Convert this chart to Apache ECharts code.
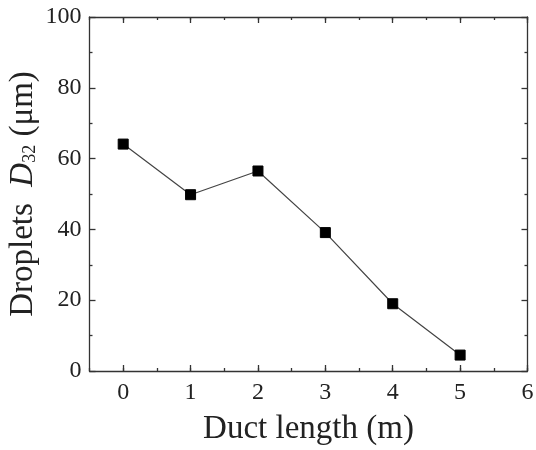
<!DOCTYPE html>
<html><head><meta charset="utf-8">
<script src="https://cdn.jsdelivr.net/npm/echarts@6/dist/echarts.min.js"></script>
<style>html,body{margin:0;padding:0;background:#fff}#c{width:536px;height:450px}</style>
</head><body><div id="c"></div>
<script>
const ductLength = [0, 1, 2, 3, 4, 5];
const dropletD32 = [64.1, 49.8, 56.5, 39.1, 19.0, 4.5];
const xMajorTicks = [0, 1, 2, 3, 4, 5, 6];
const xLabel = 'Duct length (m)';

const font = 'Liberation Serif';
const lineCol = '#333';
const chart = echarts.init(document.getElementById('c'), null, {renderer: 'canvas'});

function xAx(pos, major, labels) {
  return {
    type: 'value', position: pos, min: -0.5, max: 6, interval: 0.5,
    axisLine: {show: !major, onZero: false, lineStyle: {color: lineCol, width: 1.3}},
    axisTick: major ? {show: true, inside: true, length: 6, customValues: xMajorTicks, lineStyle: {color: lineCol, width: 1.3}}
                    : {show: true, inside: true, length: 3, lineStyle: {color: lineCol, width: 1.3}},
    axisLabel: {show: labels, margin: 10, fontFamily: font, fontSize: 24, color: '#222',
      formatter: v => (Math.abs(v - Math.round(v)) < 1e-9 && v >= 0) ? String(Math.round(v)) : ''},
    splitLine: {show: false},
    name: labels ? xLabel : '', nameLocation: 'middle', nameGap: 42,
    nameTextStyle: {fontFamily: font, fontSize: 33, color: '#222'}
  };
}
function yAx(pos, labels) {
  return {
    type: 'value', position: pos, min: 0, max: 100, interval: 20,
    axisLine: {show: true, onZero: false, lineStyle: {color: lineCol, width: 1.3}},
    axisTick: {show: true, inside: true, length: 6, lineStyle: {color: lineCol, width: 1.3}},
    minorTick: {show: true, splitNumber: 2, length: 3, lineStyle: {color: lineCol, width: 1.3}},
    axisLabel: {show: labels, margin: 8, fontFamily: font, fontSize: 24, color: '#222'},
    splitLine: {show: false}, minorSplitLine: {show: false},
    name: labels ? '{n|Droplets  }{i|D}{s|32}{n| (μm)}' : '', nameLocation: 'middle', nameGap: 50,
    nameMoveOverlap: false,
    nameTextStyle: {fontFamily: font, fontSize: 33, color: '#222',
      rich: {
        n: {fontFamily: font, fontSize: 33, color: '#222'},
        i: {fontFamily: font, fontSize: 33, fontStyle: 'italic', color: '#222'},
        s: {fontFamily: font, fontSize: 18, color: '#222', verticalAlign: 'bottom', padding: [14, 0, 0, 0]}
      }}
  };
}

chart.setOption({
  animation: false,
  backgroundColor: '#fff',
  grid: {left: 89.5, top: 17, width: 438, height: 354, containLabel: false, outerBoundsMode: 'none'},
  xAxis: [xAx('bottom', false, true), xAx('bottom', true, false), xAx('top', false, false), xAx('top', true, false)],
  yAxis: [yAx('left', true), yAx('right', false)],
  series: [{
    type: 'line', xAxisIndex: 0, yAxisIndex: 0,
    data: ductLength.map((x, i) => [x, dropletD32[i]]),
    symbol: 'rect', symbolSize: 10,
    lineStyle: {color: '#444', width: 1.2},
    itemStyle: {color: '#000', borderColor: '#000'}
  }]
});
</script></body></html>
